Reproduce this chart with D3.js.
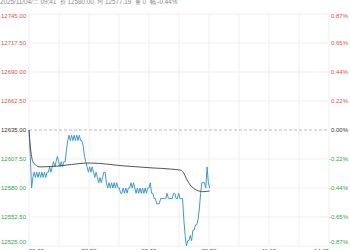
<!DOCTYPE html>
<html>
<head>
<meta charset="utf-8">
<script src="https://cdn.jsdelivr.net/npm/d3@7"></script>
<style>
  body { margin: 0; background: #fff; }
  svg { display: block; font-family: "Liberation Sans", Arial, sans-serif; }
</style>
</head>
<body>
<svg id="chart" width="350" height="250"></svg>
<script>
// session: 21:00-01:00 night + 09:00-15:00 day = 465 minutes
const totalMinutes = 465
const priceStep = 2
// last price, one value every 2 minutes from 21:00 up to 09:41
const price = [
  12635,12610,12580,12590,12595,12590,12595,12590,12595,12590,
  12595,12590,12595,12590,12595,12595,12600,12595,12600,12605,
  12600,12605,12610,12605,12600,12605,12600,12605,12605,12615,
  12625,12630,12625,12630,12625,12630,12625,12630,12625,12630,
  12625,12625,12620,12610,12605,12600,12595,12600,12595,12600,
  12595,12590,12595,12590,12585,12590,12585,12590,12595,12595,
  12585,12580,12585,12580,12585,12580,12585,12580,12585,12580,
  12580,12575,12575,12580,12575,12580,12575,12580,12580,12585,
  12580,12585,12580,12575,12580,12575,12580,12575,12580,12575,
  12580,12575,12580,12580,12585,12575,12575,12570,12570,12565,
  12565,12565,12570,12570,12570,12570,12570,12575,12570,12570,
  12570,12570,12575,12575,12570,12570,12575,12570,12570,12570,
  12550,12535,12525,12530,12530,12535,12530,12540,12540,12545,
  12545,12550,12560,12575,12585,12585,12585,12580,12600,12585,
  12580
]
const avgMinutes = [0, 2, 4, 6, 10, 17, 48, 84, 95, 146, 192, 219, 234, 239, 245, 250, 260, 270, 280]
const avgPrice = [12635, 12620, 12610, 12605, 12602, 12600, 12601, 12603.5, 12603.7, 12601, 12599, 12598, 12597, 12595, 12587.6, 12582.8, 12578, 12576.5, 12577.19]

const preClose = 12635
const yTicks = [12745, 12717.5, 12690, 12662.5, 12635, 12607.5, 12580, 12552.5, 12525]
const pctLabels = ["0.87%", "0.65%", "0.44%", "0.22%", "0.00%", "-0.22%", "-0.44%", "-0.65%", "-0.87%"]
const xTickMinutes = [0, 93, 186, 279, 372, 465]
const xTickLabels = ["21:00", "22:30", "00:00", "09:30", "11:15", "14:45"]
const gridMinutes = d3.range(0, 466, 46.5)
const header = "2025/11/04/二 09:41  价 12580.00  均 12577.19  量 0  幅 -0.44%"

const red = "#e8504a", green = "#2fa84f", blue = "#3f9ad6"

let svg = d3.select("#chart")

let x = d3.scaleLinear().domain([0, totalMinutes]).range([29, 329])
let y = d3.scaleLinear().domain([12525, 12745]).range([246, 14])

// grid
svg.selectAll(".hgrid").data(yTicks)
  .enter().append("line")
    .attr("x1", x(0)).attr("x2", x(totalMinutes))
    .attr("y1", d => y(d)).attr("y2", d => y(d))
    .attr("stroke", d => d == preClose ? "none" : "#efefef")
    .attr("stroke-width", 1)

svg.selectAll(".vgrid").data(gridMinutes)
  .enter().append("line")
    .attr("x1", d => x(d)).attr("x2", d => x(d))
    .attr("y1", y(12745)).attr("y2", y(12525))
    .attr("stroke", "#efefef")

svg.append("line")
  .attr("x1", x(0)).attr("x2", x(totalMinutes))
  .attr("y1", y(preClose)).attr("y2", y(preClose))
  .attr("stroke", "#bbb")
  .attr("stroke-dasharray", "3,2")

// lines
let priceLine = d3.line()
  .x((d, i) => x(i * priceStep))
  .y(d => y(d))

svg.append("path")
  .datum(price)
  .attr("d", priceLine)
  .attr("fill", "none")
  .attr("stroke", blue)
  .attr("stroke-width", 1)

let avgLine = d3.line()
  .x((d, i) => x(avgMinutes[i]))
  .y(d => y(d))
  .curve(d3.curveMonotoneX)

svg.append("path")
  .datum(avgPrice)
  .attr("d", avgLine)
  .attr("fill", "none")
  .attr("stroke", "#555")
  .attr("stroke-width", 1)

// y labels (drawn inside the plot)
function labelY(d, i) {
  if (i == 0) return y(d) + 3.5
  if (i == yTicks.length - 1) return y(d) - 2
  return y(d) + 2
}
function labelColor(d) {
  return d > preClose ? red : d < preClose ? green : "#333"
}

svg.selectAll(".ylab").data(yTicks)
  .enter().append("text")
    .attr("x", 1)
    .attr("y", labelY)
    .attr("font-size", 6)
    .attr("fill", labelColor)
    .text(d => d.toFixed(2))

svg.selectAll(".pctlab").data(yTicks)
  .enter().append("text")
    .attr("x", 348)
    .attr("y", labelY)
    .attr("text-anchor", "end")
    .attr("font-size", 6)
    .attr("fill", labelColor)
    .text((d, i) => pctLabels[i])

// x labels, cut by the bottom edge
svg.selectAll(".xlab").data(xTickMinutes)
  .enter().append("text")
    .attr("x", d => x(d))
    .attr("y", 252.5)
    .attr("font-size", 6)
    .attr("fill", "#444")
    .attr("text-anchor", (d, i) => i == 0 ? "start" : i == xTickMinutes.length - 1 ? "end" : "middle")
    .text((d, i) => xTickLabels[i])

svg.append("text")
  .attr("x", 0)
  .attr("y", 4)
  .attr("font-size", 6.3)
  .attr("fill", "#888")
  .style("white-space", "pre")
  .text(header)
</script>
</body>
</html>
